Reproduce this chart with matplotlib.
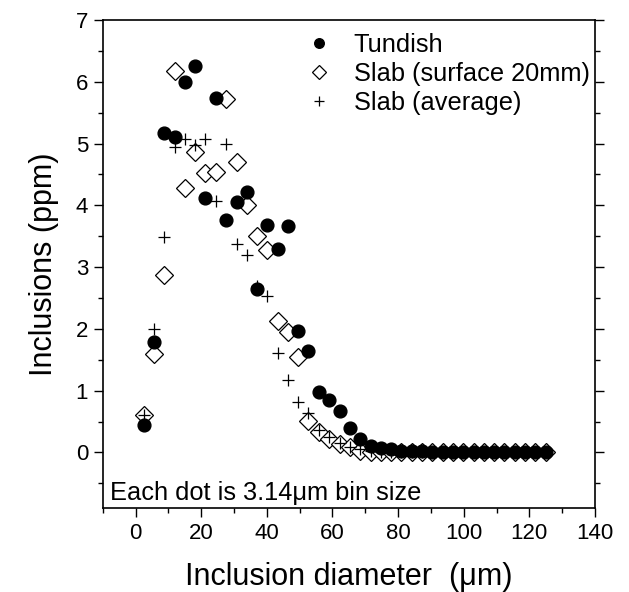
import matplotlib
matplotlib.use('Agg')
import matplotlib.pyplot as plt
from matplotlib.ticker import MultipleLocator

plt.rcParams['font.family'] = ['Liberation Sans', 'DejaVu Sans']

# bin centres (um), one dot per 3.14 um bin
diameter = [2.5, 5.6, 8.8, 11.9, 15.1, 18.2, 21.3, 24.5, 27.6, 30.8,
            33.9, 37.0, 40.2, 43.3, 46.5, 49.6, 52.7, 55.9, 59.0, 62.2,
            65.3, 68.4, 71.6, 74.7, 77.9, 81.0, 84.1, 87.3, 90.4, 93.6,
            96.7, 99.8, 103.0, 106.1, 109.3, 112.4, 115.5, 118.7, 121.8, 125.0]

tundish = [0.45, 1.79, 5.17, 5.11, 6.0, 6.26, 4.12, 5.73, 3.77, 4.05,
           4.21, 2.65, 3.68, 3.29, 3.67, 1.96, 1.64, 0.98, 0.85, 0.67,
           0.39, 0.22, 0.11, 0.07, 0.05, 0.03, 0.02, 0.02, 0.01, 0.01,
           0.01, 0.01, 0.01, 0.0, 0.0, 0.0, 0.0, 0.0, 0.0, 0.0]

slab_surface = [0.6, 1.6, 2.88, 6.18, 4.28, 4.87, 4.53, 4.54, 5.72, 4.70,
                4.01, 3.51, 3.28, 2.12, 1.95, 1.54, 0.51, 0.33, 0.22, 0.14,
                0.08, 0.03, 0.01, 0.0, 0.0, 0.0, 0.0, 0.0, 0.0, 0.0,
                0.0, 0.0, 0.0, 0.0, 0.0, 0.0, 0.0, 0.0, 0.0, 0.0]

slab_average = [0.6, 1.99, 3.49, 4.95, 5.08, 4.97, 5.08, 4.07, 5.0, 3.37,
                3.19, 2.7, 2.54, 1.61, 1.17, 0.81, 0.64, 0.37, 0.25, 0.15,
                0.09, 0.05, 0.02, 0.01, 0.0, 0.0, 0.0, 0.0, 0.0, 0.0,
                0.0, 0.0, 0.0, 0.0, 0.0, 0.0, 0.0, 0.0, 0.0, 0.0]

fig = plt.figure(figsize=(6.29, 5.92), dpi=100)
ax = fig.add_axes([0.1633, 0.1419, 0.7826, 0.8243])

# circles drawn last so they sit on top of the zero tail
ax.plot(diameter, tundish, 'o', color='black', markersize=9.2, label='Tundish', zorder=4)
ax.plot(diameter, slab_surface, 'D', markerfacecolor='white', markeredgecolor='black',
        markeredgewidth=0.9, markersize=9.5, label='Slab (surface 20mm)', zorder=2)
ax.plot(diameter, slab_average, '+', color='black', markersize=9,
        markeredgewidth=0.9, label='Slab (average)', zorder=3)

ax.set_xlim(-10, 140)
ax.set_ylim(-0.9, 7)
ax.xaxis.set_major_locator(MultipleLocator(20))
ax.xaxis.set_minor_locator(MultipleLocator(10))
ax.yaxis.set_major_locator(MultipleLocator(1))
ax.yaxis.set_minor_locator(MultipleLocator(0.5))

ax.tick_params(which='both', direction='out', width=1.0, labelsize=16,
               left=True, right=True, bottom=True, top=False)
ax.tick_params(which='major', length=6.5, pad=4)
ax.tick_params(which='minor', length=3.5)
for s in ax.spines.values():
    s.set_linewidth(1.2)

ax.set_xlabel('Inclusion diameter  (\u03bcm)', fontsize=22, labelpad=13)
ax.set_ylabel('Inclusions (ppm)', fontsize=22, labelpad=12)

ax.text(0.014, 0.006, 'Each dot is 3.14\u03bcm bin size', transform=ax.transAxes,
        fontsize=18.3, ha='left', va='bottom')

leg = ax.legend(loc='upper right', bbox_to_anchor=(1.02, 1.005), frameon=False,
                fontsize=18.3, handletextpad=0.75, labelspacing=0.2,
                borderaxespad=0.2, handlelength=1.2, markerscale=0.75)

fig.savefig('out.png', dpi=100)
